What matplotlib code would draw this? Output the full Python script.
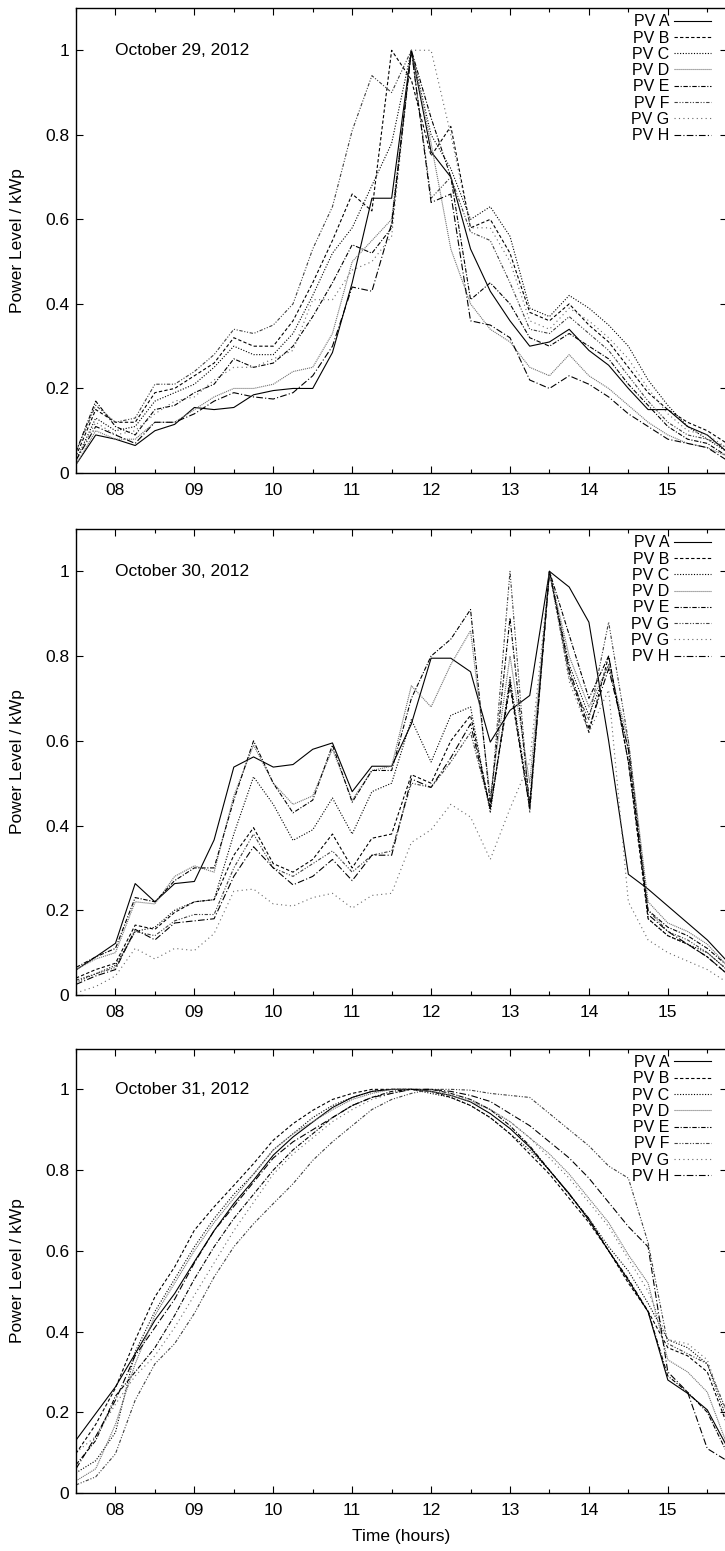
import numpy as np
import matplotlib.pyplot as plt
from matplotlib.ticker import MultipleLocator, FuncFormatter

plt.rcParams['font.family'] = ['Liberation Sans', 'DejaVu Sans']
plt.rcParams['font.size'] = 12

# time axis: quarter-hour samples from 07:30 to 15:45
hours = np.arange(7.5, 15.76, 0.25)

dates = ['October 29, 2012', 'October 30, 2012', 'October 31, 2012']
labels_29 = ['PV A', 'PV B', 'PV C', 'PV D', 'PV E', 'PV F', 'PV G', 'PV H']
labels_30 = ['PV A', 'PV B', 'PV C', 'PV D', 'PV E', 'PV G', 'PV G', 'PV H']
labels_31 = ['PV A', 'PV B', 'PV C', 'PV D', 'PV E', 'PV F', 'PV G', 'PV H']

# October 29
oct29_a = [0.02, 0.09, 0.08, 0.065, 0.10, 0.115, 0.155, 0.15, 0.155, 0.185, 0.195, 0.20, 0.20, 0.285, 0.45, 0.65, 0.65,
           1.0, 0.76, 0.70, 0.53, 0.43, 0.36, 0.30, 0.31, 0.34, 0.29, 0.255, 0.20, 0.15, 0.15, 0.11, 0.09, 0.05]
oct29_b = [0.04, 0.15, 0.12, 0.12, 0.19, 0.20, 0.23, 0.26, 0.32, 0.30, 0.30, 0.36, 0.45, 0.55, 0.66, 0.62, 1.0,
           0.93, 0.75, 0.82, 0.58, 0.60, 0.52, 0.38, 0.36, 0.40, 0.35, 0.31, 0.25, 0.19, 0.15, 0.12, 0.10, 0.07]
oct29_c = [0.03, 0.13, 0.10, 0.11, 0.17, 0.19, 0.21, 0.25, 0.30, 0.28, 0.28, 0.33, 0.42, 0.52, 0.58, 0.68, 0.78,
           1.0, 0.80, 0.72, 0.60, 0.63, 0.56, 0.39, 0.37, 0.42, 0.39, 0.35, 0.30, 0.22, 0.16, 0.11, 0.08, 0.05]
oct29_d = [0.02, 0.10, 0.08, 0.08, 0.12, 0.12, 0.15, 0.18, 0.20, 0.20, 0.21, 0.24, 0.25, 0.33, 0.50, 0.55, 0.60,
           1.0, 0.78, 0.53, 0.40, 0.34, 0.31, 0.25, 0.23, 0.28, 0.23, 0.20, 0.16, 0.12, 0.09, 0.07, 0.06, 0.04]
oct29_e = [0.05, 0.17, 0.11, 0.09, 0.15, 0.16, 0.19, 0.21, 0.27, 0.25, 0.26, 0.30, 0.37, 0.45, 0.54, 0.52, 0.58,
           1.0, 0.84, 0.70, 0.41, 0.45, 0.40, 0.32, 0.30, 0.33, 0.30, 0.27, 0.21, 0.16, 0.11, 0.08, 0.07, 0.04]
oct29_f = [0.05, 0.16, 0.12, 0.13, 0.21, 0.21, 0.24, 0.28, 0.34, 0.33, 0.35, 0.40, 0.53, 0.63, 0.81, 0.94, 0.90,
           1.0, 0.65, 0.70, 0.57, 0.55, 0.45, 0.34, 0.33, 0.37, 0.33, 0.29, 0.23, 0.17, 0.12, 0.09, 0.08, 0.06]
oct29_g = [0.03, 0.12, 0.09, 0.10, 0.14, 0.17, 0.18, 0.22, 0.25, 0.25, 0.27, 0.29, 0.41, 0.41, 0.48, 0.50, 0.56,
           1.0, 1.0, 0.80, 0.58, 0.58, 0.50, 0.36, 0.34, 0.39, 0.36, 0.32, 0.27, 0.20, 0.14, 0.10, 0.09, 0.06]
oct29_h = [0.03, 0.11, 0.09, 0.07, 0.12, 0.12, 0.14, 0.17, 0.19, 0.18, 0.175, 0.19, 0.23, 0.30, 0.44, 0.43, 0.59,
           1.0, 0.64, 0.66, 0.36, 0.35, 0.32, 0.22, 0.20, 0.23, 0.21, 0.18, 0.14, 0.11, 0.08, 0.07, 0.06, 0.03]

# October 30
oct30_a = [0.059, 0.09, 0.122, 0.263, 0.22, 0.263, 0.268, 0.366, 0.538, 0.562, 0.538, 0.544, 0.58, 0.595, 0.48, 0.54, 0.54,
           0.64, 0.795, 0.795, 0.763, 0.597, 0.672, 0.707, 1.0, 0.963, 0.88, 0.60, 0.285, 0.25, 0.21, 0.17, 0.13, 0.08]
oct30_b = [0.04, 0.06, 0.075, 0.165, 0.155, 0.195, 0.22, 0.225, 0.33, 0.395, 0.31, 0.29, 0.32, 0.38, 0.30, 0.37, 0.38,
           0.52, 0.50, 0.60, 0.66, 0.44, 0.73, 0.44, 1.0, 0.76, 0.62, 0.80, 0.55, 0.18, 0.14, 0.12, 0.09, 0.05]
oct30_c = [0.03, 0.05, 0.07, 0.15, 0.16, 0.20, 0.22, 0.225, 0.38, 0.515, 0.45, 0.365, 0.39, 0.465, 0.38, 0.48, 0.50,
           0.65, 0.55, 0.66, 0.68, 0.43, 0.75, 0.45, 1.0, 0.78, 0.66, 0.78, 0.58, 0.18, 0.14, 0.12, 0.10, 0.06]
oct30_d = [0.06, 0.085, 0.10, 0.22, 0.215, 0.28, 0.305, 0.29, 0.47, 0.59, 0.50, 0.45, 0.47, 0.58, 0.46, 0.53, 0.54,
           0.73, 0.68, 0.78, 0.86, 0.47, 0.80, 0.50, 1.0, 0.80, 0.68, 0.78, 0.60, 0.22, 0.17, 0.15, 0.12, 0.07]
oct30_e = [0.065, 0.09, 0.11, 0.23, 0.22, 0.27, 0.30, 0.30, 0.46, 0.60, 0.50, 0.43, 0.46, 0.59, 0.455, 0.53, 0.53,
           0.70, 0.80, 0.84, 0.91, 0.45, 0.89, 0.45, 1.0, 0.85, 0.70, 0.80, 0.55, 0.20, 0.16, 0.14, 0.11, 0.07]
oct30_g1 = [0.035, 0.05, 0.065, 0.15, 0.14, 0.175, 0.19, 0.19, 0.30, 0.38, 0.30, 0.28, 0.31, 0.34, 0.29, 0.33, 0.34,
            0.50, 0.49, 0.55, 0.62, 0.44, 1.0, 0.43, 1.0, 0.75, 0.65, 0.88, 0.60, 0.20, 0.15, 0.13, 0.10, 0.06]
oct30_g2 = [0.005, 0.02, 0.045, 0.11, 0.085, 0.11, 0.105, 0.145, 0.245, 0.25, 0.215, 0.21, 0.23, 0.24, 0.205, 0.235, 0.24,
            0.36, 0.39, 0.45, 0.42, 0.32, 0.44, 0.55, 1.0, 0.74, 0.62, 0.72, 0.22, 0.13, 0.10, 0.08, 0.06, 0.03]
oct30_h = [0.025, 0.045, 0.06, 0.155, 0.13, 0.17, 0.175, 0.18, 0.28, 0.35, 0.30, 0.26, 0.28, 0.32, 0.27, 0.33, 0.33,
           0.51, 0.49, 0.56, 0.64, 0.44, 0.74, 0.44, 1.0, 0.77, 0.63, 0.77, 0.58, 0.19, 0.15, 0.12, 0.09, 0.05]

# October 31
oct31_a = [0.131, 0.197, 0.263, 0.345, 0.428, 0.494, 0.573, 0.65, 0.717, 0.775, 0.837, 0.882, 0.919, 0.955, 0.98, 0.995, 1.0,
           1.0, 0.995, 0.985, 0.969, 0.94, 0.903, 0.857, 0.799, 0.742, 0.676, 0.60, 0.527, 0.449, 0.28, 0.247, 0.206, 0.115]
oct31_b = [0.098, 0.17, 0.26, 0.379, 0.486, 0.56, 0.651, 0.709, 0.762, 0.816, 0.874, 0.915, 0.948, 0.975, 0.99, 1.0, 1.0,
           1.0, 0.995, 0.98, 0.96, 0.93, 0.89, 0.84, 0.79, 0.73, 0.67, 0.60, 0.52, 0.45, 0.36, 0.34, 0.30, 0.17]
oct31_c = [0.05, 0.08, 0.15, 0.35, 0.45, 0.53, 0.61, 0.68, 0.74, 0.79, 0.85, 0.89, 0.93, 0.96, 0.98, 0.995, 1.0,
           1.0, 0.99, 0.98, 0.96, 0.93, 0.89, 0.85, 0.80, 0.74, 0.68, 0.61, 0.55, 0.47, 0.38, 0.36, 0.32, 0.18]
oct31_d = [0.03, 0.06, 0.17, 0.32, 0.44, 0.52, 0.60, 0.67, 0.73, 0.79, 0.85, 0.89, 0.92, 0.95, 0.975, 0.99, 1.0,
           1.0, 0.995, 0.985, 0.97, 0.95, 0.92, 0.88, 0.84, 0.79, 0.73, 0.67, 0.59, 0.52, 0.33, 0.30, 0.25, 0.12]
oct31_e = [0.07, 0.13, 0.24, 0.30, 0.36, 0.44, 0.53, 0.61, 0.68, 0.74, 0.80, 0.85, 0.89, 0.93, 0.96, 0.98, 0.995,
           1.0, 1.0, 0.99, 0.975, 0.95, 0.91, 0.86, 0.80, 0.74, 0.68, 0.60, 0.53, 0.45, 0.29, 0.25, 0.20, 0.10]
oct31_f = [0.02, 0.04, 0.097, 0.23, 0.32, 0.37, 0.445, 0.535, 0.61, 0.667, 0.717, 0.766, 0.824, 0.87, 0.91, 0.95, 0.975,
           0.99, 1.0, 1.0, 0.998, 0.99, 0.985, 0.98, 0.94, 0.90, 0.86, 0.81, 0.78, 0.62, 0.37, 0.345, 0.32, 0.20]
oct31_g = [0.10, 0.14, 0.22, 0.29, 0.34, 0.41, 0.49, 0.57, 0.65, 0.72, 0.79, 0.84, 0.88, 0.92, 0.95, 0.975, 0.99,
           1.0, 1.0, 0.99, 0.975, 0.95, 0.92, 0.88, 0.83, 0.78, 0.72, 0.66, 0.58, 0.50, 0.38, 0.37, 0.33, 0.19]
oct31_h = [0.06, 0.14, 0.23, 0.34, 0.41, 0.48, 0.57, 0.65, 0.71, 0.77, 0.83, 0.87, 0.90, 0.93, 0.96, 0.98, 0.99,
           1.0, 1.0, 0.995, 0.985, 0.97, 0.94, 0.91, 0.87, 0.83, 0.78, 0.72, 0.66, 0.61, 0.30, 0.25, 0.11, 0.08]

days = [
    (labels_29, [oct29_a, oct29_b, oct29_c, oct29_d, oct29_e, oct29_f, oct29_g, oct29_h]),
    (labels_30, [oct30_a, oct30_b, oct30_c, oct30_d, oct30_e, oct30_g1, oct30_g2, oct30_h]),
    (labels_31, [oct31_a, oct31_b, oct31_c, oct31_d, oct31_e, oct31_f, oct31_g, oct31_h]),
]

# gnuplot-like monochrome line types
styles = [
    dict(color='black', ls='-'),
    dict(color='black', ls=(0, (3, 2))),
    dict(color='black', ls=(0, (1, 1.5))),
    dict(color='0.45', ls=(0, (1, 0.8))),
    dict(color='black', ls=(0, (4, 1.5, 1, 1.5))),
    dict(color='0.25', ls=(0, (3, 1.5, 1, 1.5, 1, 1.5))),
    dict(color='0.4', ls=(0, (1, 3))),
    dict(color='black', ls=(0, (6, 2, 1, 2))),
]

# axes boxes in pixels: (top, bottom)
boxes = [(8, 473), (529, 995), (1049, 1493)]
W, H = 725, 1551

fig = plt.figure(figsize=(7.25, 15.51), dpi=100)

for i, (labels, series) in enumerate(days):
    top, bot = boxes[i]
    ax = fig.add_axes([76 / W, 1 - bot / H, 651 / W, (bot - top) / H])
    for lab, vals, st in zip(labels, series, styles):
        ax.plot(hours, vals, lw=0.8, label=lab, **st)
    ax.set_xlim(7.5, 15.75)
    ax.set_ylim(0, 1.1)
    ax.xaxis.set_major_locator(MultipleLocator(1))
    ax.xaxis.set_minor_locator(MultipleLocator(0.5))
    ax.yaxis.set_major_locator(MultipleLocator(0.2))
    ax.xaxis.set_major_formatter(FuncFormatter(lambda v, p: '%02d' % int(round(v))))
    ax.yaxis.set_major_formatter(FuncFormatter(lambda v, p: ('%.1f' % v).rstrip('0').rstrip('.') if v else '0'))
    ax.tick_params(which='both', direction='in', top=True, right=True, width=0.8, labelsize=12.5)
    ax.tick_params(which='major', length=5)
    ax.tick_params(which='minor', length=3)
    ax.tick_params(axis='x', pad=7)
    ax.tick_params(axis='y', pad=5)
    for s in ax.spines.values():
        s.set_linewidth(1.0)
    ax.text(8.0, 1.0, dates[i], fontsize=12.5, va='center', ha='left')
    ax.set_ylabel('Power Level / kWp', fontsize=12.5)
    ax.yaxis.set_label_coords(-0.078, 0.5)
    leg = ax.legend(loc='upper right', bbox_to_anchor=(0.978, 0.99), frameon=False, markerfirst=False,
                    fontsize=11.5, handlelength=2.3, handletextpad=0.3, labelspacing=0.08,
                    borderaxespad=0.0, borderpad=0.1)
    # right-align the rows so labels sit flush against their samples
    for col in leg._legend_handle_box.get_children():
        col.align = 'right'
    if i == 2:
        ax.set_xlabel('Time (hours)', fontsize=12.5)
        ax.xaxis.set_label_coords(0.5, -0.08)

fig.savefig('out.png', dpi=100)
